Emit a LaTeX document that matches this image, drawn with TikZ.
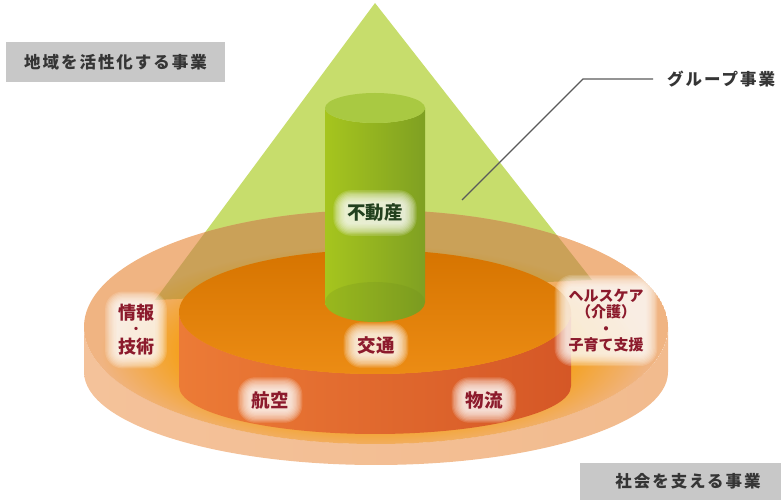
\documentclass[tikz,border=0pt]{standalone}
\usepackage{fontspec}
\usetikzlibrary{calc}
\newfontfamily\jp{Noto Sans CJK JP}
\newfontfamily\jpwide[LetterSpace=12]{Noto Sans CJK JP}
\definecolor{trigreen}{HTML}{C7DD6C}
\definecolor{ringyellow}{HTML}{F4A223}
\definecolor{ringpeach}{HTML}{F0B482}
\definecolor{sidepeachL}{HTML}{F4C29A}
\definecolor{sidepeachM}{HTML}{FADCC2}
\definecolor{sidepeachR}{HTML}{F2BB8E}
\definecolor{oliveov}{HTML}{9C8A26}
\definecolor{innertopA}{HTML}{D67400}
\definecolor{innertopB}{HTML}{EC8C14}
\definecolor{innersideL}{HTML}{EC7B36}
\definecolor{innersideM}{HTML}{E36B2F}
\definecolor{innersideR}{HTML}{D55726}
\definecolor{gcylL}{HTML}{A6C51E}
\definecolor{gcylM}{HTML}{96B924}
\definecolor{gcylR}{HTML}{7FA022}
\definecolor{gcyltop}{HTML}{A9C942}
\definecolor{gcylbase}{HTML}{6E8C1C}
\definecolor{maroon}{HTML}{8C1A2C}
\definecolor{dkgreen}{HTML}{22401E}
\definecolor{boxgray}{HTML}{C8C8C8}
\definecolor{lblgray}{HTML}{353535}
\definecolor{leadgray}{HTML}{5A5A5A}
\pgfdeclareradialshading{ringshade}{\pgfpoint{0bp}{0bp}}{color(0bp)=(ringyellow); color(18bp)=(ringyellow); color(25bp)=(ringpeach); color(50bp)=(ringpeach)}
\pgfdeclarelayer{back}
\pgfdeclarelayer{mid}
\pgfsetlayers{back,mid,main}
\tikzset{
  graybox/.style={fill=boxgray, text=lblgray, font=\jpwide\bfseries\fontsize{16.5}{18}\selectfont, inner sep=0pt},
  grptext/.style={text=lblgray, font=\jpwide\bfseries\fontsize{16.5}{18}\selectfont, inner sep=0pt, anchor=west},
  dlabel/.style={text=maroon, font=\jp\bfseries\fontsize{18.5}{20}\selectfont, inner sep=1pt},
  jlabel/.style={text=maroon, font=\jp\bfseries\fontsize{18}{18}\selectfont, inner sep=0pt},
  leader/.style={draw=leadgray, line width=1.1pt},
}
% soft white glow behind a label: #1 gives the south-west corner, #2 the north-east one
\newcommand\glowbox[2]{%
  \foreach \k in {0,...,9}{%
    \pgfmathsetmacro\gd{1+\k*1.3}%
    \pgfmathsetmacro\gr{6+\k*1.3}%
    \fill[white, fill opacity=0.15, rounded corners=\gr pt] ($(#1.south west)+(-\gd,-\gd)$) rectangle ($(#2.north east)+(\gd,\gd)$);
  }}
\begin{document}
\begin{tikzpicture}[x=1pt,y=1pt]
\useasboundingbox (0,0) rectangle (781,500);
\begin{pgfonlayer}{back}
  % green cone
  \fill[trigreen] (375,497) -- (155,200) -- (592,220) -- cycle;
  % outer disc side
  \shade[left color=sidepeachL, middle color=sidepeachM, right color=sidepeachR]
    (84,173) -- (84,128) arc[start angle=180,end angle=360,x radius=292,y radius=93]
    -- (668,173) arc[start angle=0,end angle=-180,x radius=292,y radius=117] -- cycle;
  % outer disc top
  \begin{scope}
    \clip (376,173) ellipse [x radius=292, y radius=117];
    \fill[ringpeach] (376,173) ellipse [x radius=292, y radius=117];
    \shade[shading=ringshade] (375,150) ellipse [x radius=275, y radius=105];
    \fill[oliveov, fill opacity=0.45] (375,497) -- (155,200) -- (592,220) -- cycle;
  \end{scope}
  % inner cylinder
  \shade[left color=innersideL, middle color=innersideM, right color=innersideR]
    (179,188) -- (179,114) arc[start angle=180,end angle=360,x radius=196,y radius=48]
    -- (571,188) arc[start angle=0,end angle=-180,x radius=196,y radius=62] -- cycle;
  \shade[top color=innertopA, bottom color=innertopB] (375,188) ellipse [x radius=196, y radius=62];
  % green cylinder
  \shade[left color=gcylL, middle color=gcylM, right color=gcylR]
    (325,392) -- (325,198) arc[start angle=180,end angle=360,x radius=50,y radius=20]
    -- (425,392) arc[start angle=0,end angle=-180,x radius=50,y radius=15] -- cycle;
  \fill[gcylbase, fill opacity=0.22] (375,198) ellipse [x radius=50, y radius=20];
  \fill[gcyltop] (375,392) ellipse [x radius=50, y radius=15];
\end{pgfonlayer}

% gray labels
\node[graybox, minimum width=219pt, minimum height=40pt] (box1) at (115.5,438) {地域を活性化する事業};
\node[graybox, minimum width=216pt, minimum height=37pt] (box2) at (688,18.5) {社会を支える事業};
\node[grptext] (grp) at (667,421) {グループ事業};
\coordinate (knee) at (583,421);
\coordinate (tip) at (462,300);
\draw[leader] ([xshift=-14pt]grp.west) -- (knee) -- (tip);

% diagram labels
\node[dlabel, text=dkgreen] (fudosan) at (375,287) {不動産};
\node[dlabel] (kotsu) at (376,155) {交通};
\node[dlabel] (koku) at (270,100) {航空};
\node[dlabel] (butsuryu) at (484,100) {物流};
\node[jlabel] (joho) at (136,187) {情報};
\node[jlabel, font=\jp\bfseries\fontsize{12}{12}\selectfont] (johodot) at (136,170) {・};
\node[jlabel] (gijutsu) at (136,153) {技術};
\node[dlabel, align=center, font=\jp\bfseries\fontsize{15}{16.5}\selectfont] (health) at (606,179.5) {ヘルスケア\\（介護）\\・\\子育て支援};

\begin{pgfonlayer}{mid}
  \glowbox{fudosan}{fudosan}
  \glowbox{kotsu}{kotsu}
  \glowbox{koku}{koku}
  \glowbox{butsuryu}{butsuryu}
  \glowbox{gijutsu}{joho}
  \glowbox{health}{health}
\end{pgfonlayer}
\end{tikzpicture}
\end{document}
